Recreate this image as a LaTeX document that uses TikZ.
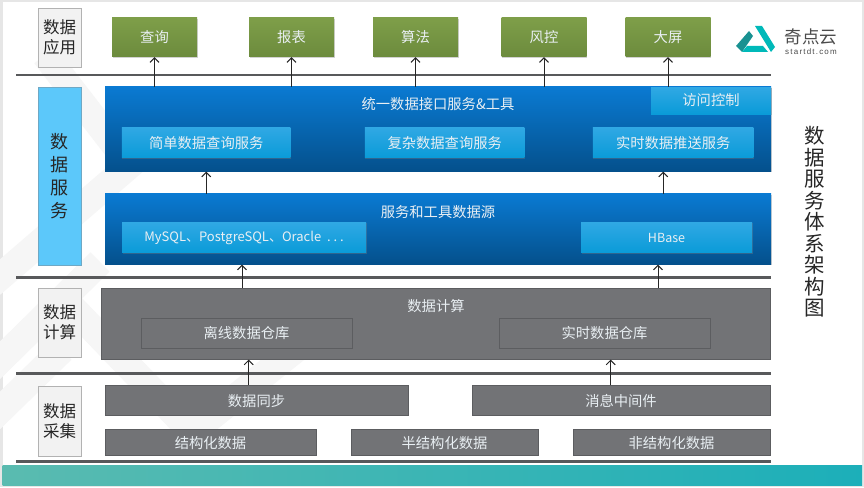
\documentclass[tikz,border=0pt]{standalone}
\usepackage{fontspec}
\setmainfont{Noto Sans CJK SC}
\newfontfamily\logofont[LetterSpace=15]{Liberation Sans}
\usetikzlibrary{shadows,arrows.meta,positioning}
\definecolor{slidegray}{HTML}{E6E6E6}
\definecolor{wmarkgray}{HTML}{F6F6F6}
\definecolor{rulegray}{HTML}{58595B}
\definecolor{boxgray}{HTML}{727376}
\definecolor{boxedge}{HTML}{5C5D60}
\definecolor{textlight}{HTML}{E9EFF3}
\definecolor{tealleft}{HTML}{5ABBB0}
\definecolor{tealright}{HTML}{1CAFB9}
\definecolor{greentop}{HTML}{7E9E49}
\definecolor{greenbottom}{HTML}{6C8B3D}
\definecolor{bluetop}{HTML}{0A7AD2}
\definecolor{bluebottom}{HTML}{04508C}
\definecolor{subtop}{HTML}{30A8E4}
\definecolor{subbottom}{HTML}{0A9BD8}
\definecolor{servicefill}{HTML}{5CC8FA}
\definecolor{serviceedge}{HTML}{6FA8C4}
\tikzstyle{labelblock} = [draw=black!30, fill=black!5, text=black!85, align=center, minimum width=43pt, inner sep=0pt, font=\fontsize{16.5}{20}\selectfont]
\tikzstyle{greenblock} = [top color=greentop, bottom color=greenbottom, text=textlight, minimum width=85pt, minimum height=39pt, inner sep=0pt, font=\fontsize{14.3}{17}\selectfont, drop shadow={shadow xshift=0.5pt,shadow yshift=-1pt,opacity=0.35}]
\tikzstyle{bigblock} = [top color=bluetop, bottom color=bluebottom, minimum width=666pt, inner sep=0pt, drop shadow={shadow xshift=0.5pt,shadow yshift=-1pt,opacity=0.35}]
\tikzstyle{subblock} = [top color=subtop, bottom color=subbottom, text=textlight, minimum height=30.5pt, inner sep=0pt, font=\fontsize{14.3}{17}\selectfont, drop shadow={shadow xshift=0.5pt,shadow yshift=-1pt,opacity=0.35}]
\tikzstyle{grayblock} = [draw=boxedge, fill=boxgray, text=textlight, inner sep=0pt, line width=0.8pt, font=\fontsize{14.3}{17}\selectfont]
\tikzstyle{titletext} = [text=textlight, inner sep=0pt, font=\fontsize{14.3}{17}\selectfont]
\tikzstyle{wmark} = [draw=wmarkgray, line width=27pt, miter limit=10]
\tikzstyle{sepline} = [draw=rulegray, line width=2.7pt]
\tikzstyle{arrow} = [draw, line width=1pt, color=black!85, -{Straight Barb[length=4.5pt,width=9pt]}]
\newcommand{\labelblock}[3]{node (l#1) [labelblock, minimum height=#2] {#3}}
\newcommand{\greenblock}[2]{node (g#1) [greenblock] {#2}}
\newcommand{\subblock}[3]{node (s#1) [subblock, minimum width=#2] {#3}}
\newcommand{\grayblock}[4]{node (d#1) [grayblock, minimum width=#2, minimum height=#3] {#4}}

\begin{document}
\begin{tikzpicture}[x=1pt,y=-1pt]
\useasboundingbox (0,0) rectangle (864,487);
\fill [slidegray] (0,0) rectangle (864,487);
\fill [white] (2.5,2.5) rectangle (862,466);
% watermark
\path [wmark] (45,55) -- (130,165) -- (-15,290);
\path [wmark] (-15,375) -- (100,262);
\path [wmark] (65,300) -- (192,432) -- (320,330);
\path [wmark] (-15,425) -- (62,350);
\fill [left color=tealleft, right color=tealright] (2.5,465.5) rectangle (862,485);

% separators
\path [sepline] (16,75) -- (771,75);
\path [sepline] (16,277.3) -- (771,277.3);
\path [sepline] (16,373.3) -- (771,373.3);
\path [sepline] (16,461.7) -- (771,461.7);

% left column
\path (59.5,37.5) \labelblock{1}{59pt}{数据\\应用};
\path (l1)+(0,138.5) node (l2) [labelblock, minimum height=178pt, fill=servicefill, draw=serviceedge, font=\fontsize{18}{23}\selectfont] {数\\据\\服\\务};
\path (l2)+(0,146.5) \labelblock{3}{69pt}{数据\\计算};
\path (l3)+(0,98.5) \labelblock{4}{70pt}{数据\\采集};

% top row
\path (154.5,37.5) \greenblock{1}{查询};
\path (g1)+(137,0) \greenblock{2}{报表};
\path (g2)+(124,0) \greenblock{3}{算法};
\path (g3)+(128.5,0) \greenblock{4}{风控};
\path (g4)+(124,0) \greenblock{5}{大屏};

% service layer
\path (438,129.2) node (b1) [bigblock, minimum height=84.5pt] {};
\path (438,229.2) node (b2) [bigblock, minimum height=70.5pt] {};
\path (438,104) node (t1) [titletext] {统一数据接口服务\&工具};
\path (438,212) node (t2) [titletext] {服务和工具数据源};
\path (206.2,142.7) \subblock{1}{168.5pt}{简单数据查询服务};
\path (s1)+(238.5,0) \subblock{2}{159.5pt}{复杂数据查询服务};
\path (s2)+(228.5,0) \subblock{3}{160.5pt}{实时数据推送服务};
\path (711,100.5) node (s4) [subblock, minimum width=120pt, minimum height=27pt] {访问控制};
\path (244,237.5) \subblock{5}{244pt}{\fontsize{13}{15}\selectfont MySQL、PostgreSQL、Oracle\ \ .\ .\ .};
\path (666.5,237.5) \subblock{6}{171pt}{\fontsize{12.5}{15}\selectfont HBase};

% compute layer
\path (435.7,323.7) \grayblock{0}{669pt}{71pt}{};
\path (436,306) node (t3) [titletext] {数据计算};
\path (246.5,333.2) \grayblock{1}{211pt}{30pt}{离线数据仓库};
\path (d1)+(358,0) \grayblock{2}{211pt}{30pt}{实时数据仓库};

% collect layer
\path (256.5,400.7) \grayblock{3}{303pt}{30pt}{数据同步};
\path (621,400.7) \grayblock{4}{298pt}{30pt}{消息中间件};
\path (210.5,442.7) \grayblock{5}{211pt}{26pt}{结构化数据};
\path (444.5,442.7) \grayblock{6}{187pt}{26pt}{半结构化数据};
\path (671.5,442.7) \grayblock{7}{197pt}{26pt}{非结构化数据};

% arrows
\path [arrow] (g1 |- b1.north) -- (g1.south);
\path [arrow] (g2 |- b1.north) -- (g2.south);
\path [arrow] (g3 |- b1.north) -- (g3.south);
\path [arrow] (g4 |- b1.north) -- (g4.south);
\path [arrow] (g5 |- s4.north) -- (g5.south);
\path [arrow] (s1 |- b2.north) -- (s1 |- b1.south);
\path [arrow] ([xshift=-3.2pt]s6.south |- b2.north) -- ([xshift=-3.2pt]s6.south |- b1.south);
\path [arrow] ([xshift=-2pt]s5.south |- d0.north) -- ([xshift=-2pt]s5.south |- b2.south);
\path [arrow] ([xshift=-8.5pt]s6.south |- d0.north) -- ([xshift=-8.5pt]s6.south |- b2.south);
\path [arrow] ([xshift=2.2pt]d1.south |- d3.north) -- ([xshift=2.2pt]d1.south |- d0.south);
\path [arrow] ([xshift=6.2pt]d2.south |- d4.north) -- ([xshift=6.2pt]d2.south |- d0.south);

% slide title
\path (814.7,222) node (title) [align=center, inner sep=0pt, text=black!85, font=\fontsize{20.5}{21.5}\selectfont] {数\\据\\服\\务\\体\\系\\架\\构\\图};

% logo
\fill [teal!70!cyan!80!black!90] (736,46) -- (749,31) -- (753,36) -- (742,52) -- cycle;
\fill [teal!55!cyan] (755,26) -- (762,26) -- (775,47) -- (771,52) -- cycle;
\fill [teal!55!cyan] (747,46) -- (763,46) -- (768,52) -- (742,52) -- cycle;
\path (811,37) node (brand) [inner sep=0pt, text=black!70, font=\fontsize{17.5}{20}\selectfont] {奇点云};
\path (brand)+(0,15) node (site) [inner sep=0pt, text=black!70, font=\logofont\fontsize{8}{9}\selectfont] {startdt.com};
\end{tikzpicture}
\end{document}
